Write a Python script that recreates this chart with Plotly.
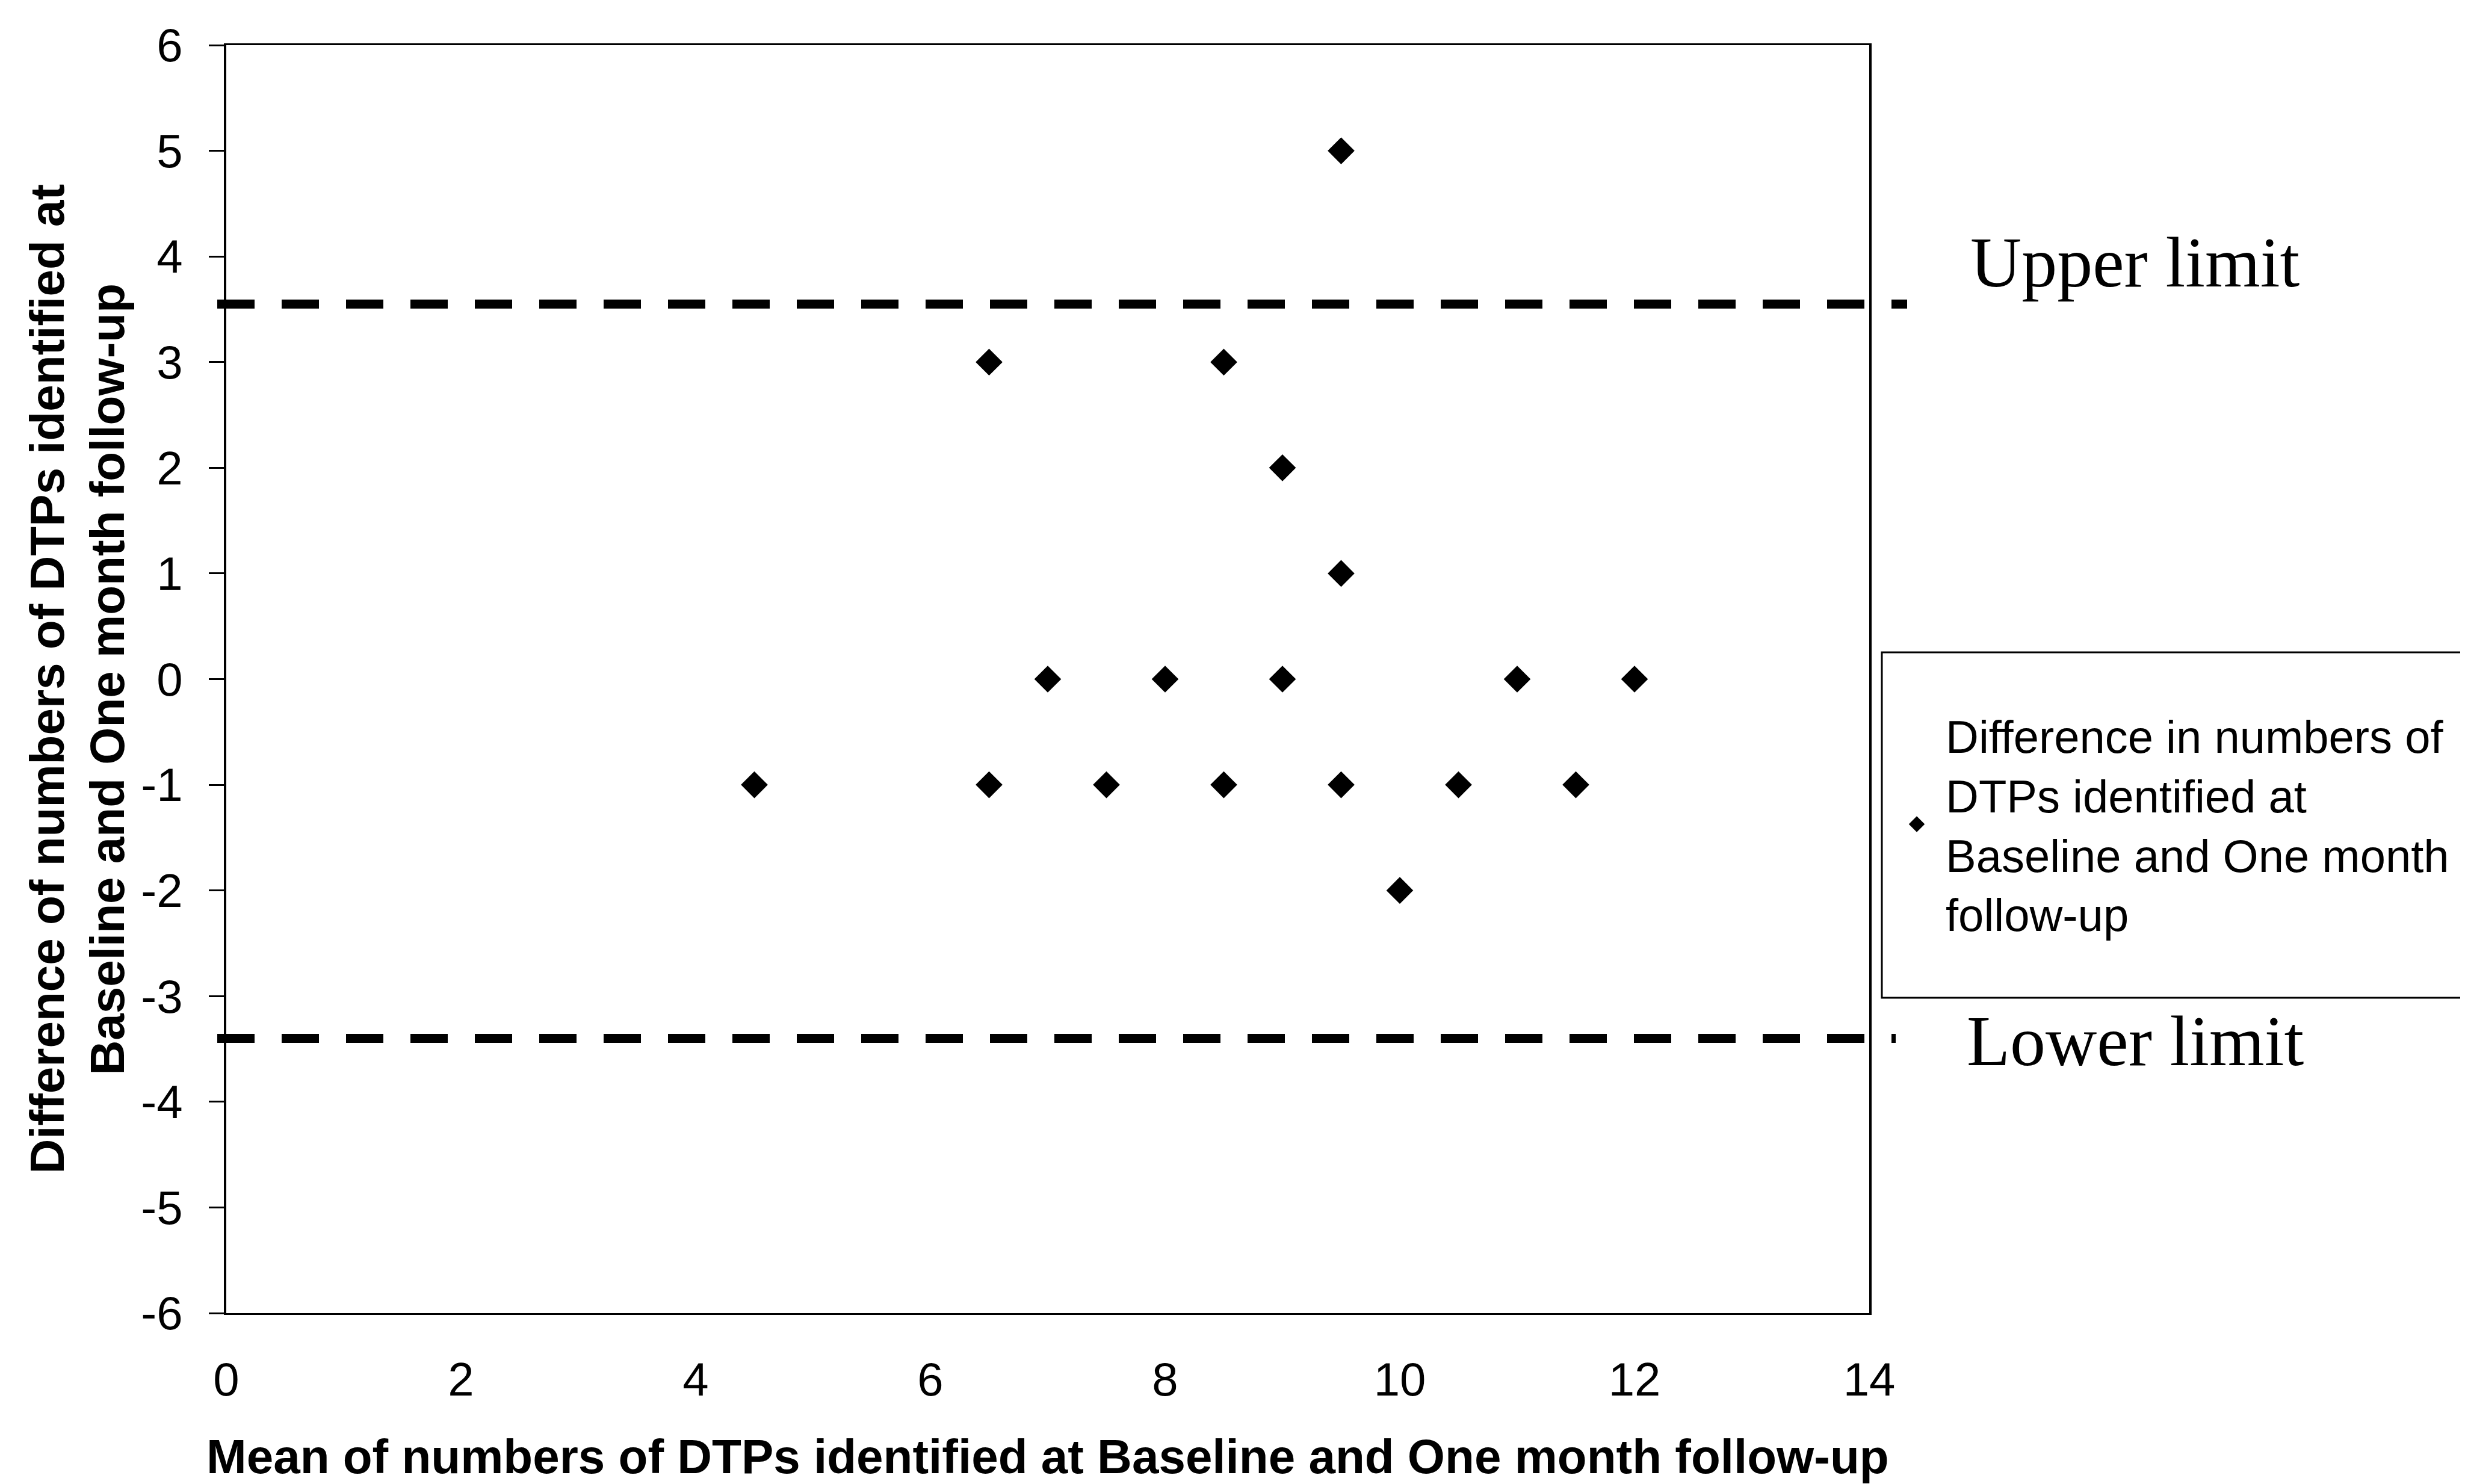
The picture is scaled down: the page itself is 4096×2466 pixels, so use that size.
import plotly.graph_objects as go

# ---- data ----
mean_vals = [4.5, 6.5, 6.5, 7, 7.5, 8, 8.5, 8.5, 9, 9, 9.5, 9.5, 9.5, 10, 10.5, 11, 11.5, 12]
diff_vals = [-1, 3, -1, 0, -1, 0, 3, -1, 2, 0, 5, 1, -1, -2, -1, 0, -1, 0]
limit_names = ["Upper limit", "Lower limit"]
limit_values = [3.55, -3.4]
x_ticks = [0, 2, 4, 6, 8, 10, 12, 14]
y_ticks = [-6, -5, -4, -3, -2, -1, 0, 1, 2, 3, 4, 5, 6]
series_name = "Difference in numbers of<br>DTPs identified at<br>Baseline and One month<br>follow-up"
x_title = "Mean of numbers of DTPs identified at Baseline and One month follow-up"
y_title_lines = ["Difference of numbers of DTPs identified at", "Baseline and One month follow-up"]

W, H = 4096, 2466
L, R, T, B = 368, 3098, 67, 2174
PW, PH = R - L, B - T

def px(x):
    return (x - L) / PW

def py(y):
    return (B - y) / PH

SANS = "Liberation Sans, Arial, sans-serif"
SERIF = "Liberation Serif, Times New Roman, serif"

fig = go.Figure()
fig.add_trace(go.Scatter(
    x=mean_vals, y=diff_vals, mode="markers", name=series_name,
    marker=dict(symbol="diamond", size=30, color="black",
                line=dict(width=4, color="black")),
    cliponaxis=False,
))

shapes = []
# limit lines (dashed), extending slightly beyond the plot frame
line_ends = [px(3161), px(3142)]
for val, xe in zip(limit_values, line_ends):
    shapes.append(dict(type="line", xref="paper", yref="y", x0=px(353), x1=xe,
                       y0=val, y1=val,
                       line=dict(color="black", width=15, dash="62px,45px")))
# legend box
shapes.append(dict(type="rect", xref="paper", yref="paper",
                   x0=px(3119), x1=px(4110), y0=py(1650), y1=py(1076),
                   line=dict(color="black", width=3), fillcolor="rgba(0,0,0,0)"))

annotations = [
    dict(text=limit_names[0], xref="paper", yref="paper", x=px(3540), y=py(428),
         xanchor="center", yanchor="middle", showarrow=False,
         font=dict(family=SERIF, size=118, color="black")),
    dict(text=limit_names[1], xref="paper", yref="paper", x=px(3540), y=py(1722),
         xanchor="center", yanchor="middle", showarrow=False,
         font=dict(family=SERIF, size=118, color="black")),
    dict(text="<b>" + y_title_lines[0] + "</b>", xref="paper", yref="paper", x=0, y=0.5,
         xshift=70 - L, textangle=-90, xanchor="center", yanchor="middle", showarrow=False,
         font=dict(family=SANS, size=80, color="black")),
    dict(text="<b>" + y_title_lines[1] + "</b>", xref="paper", yref="paper", x=0, y=0.5,
         xshift=170 - L, textangle=-90, xanchor="center", yanchor="middle", showarrow=False,
         font=dict(family=SANS, size=80, color="black")),
    dict(text="<b>" + x_title + "</b>", xref="paper", yref="paper", x=0.5, y=py(2412),
         xanchor="center", yanchor="middle", showarrow=False,
         font=dict(family=SANS, size=80, color="black")),
]

fig.update_layout(
    width=W, height=H,
    margin=dict(l=L, r=W - R, t=T, b=H - B, pad=0),
    paper_bgcolor="white", plot_bgcolor="white",
    font=dict(family=SANS, color="black", size=77),
    showlegend=True,
    legend=dict(x=px(3129), y=py(1362), xanchor="left", yanchor="middle",
                bgcolor="rgba(0,0,0,0)", borderwidth=0, itemwidth=86,
                font=dict(family=SANS, size=76, color="black")),
    shapes=shapes,
    annotations=annotations,
    xaxis=dict(range=[0, 14], tickvals=x_ticks, ticktext=[str(v) for v in x_ticks],
               showgrid=False, zeroline=False, showline=True, linecolor="black",
               linewidth=3, mirror=True, ticks="", ticklabelstandoff=40,
               tickfont=dict(family=SANS, size=78, color="black")),
    yaxis=dict(range=[-6, 6], tickvals=y_ticks, ticktext=[str(v) for v in y_ticks],
               showgrid=False, zeroline=False, showline=True, linecolor="black",
               linewidth=3.5, mirror=True, ticks="outside", ticklen=25, tickwidth=3,
               tickcolor="black", ticklabelstandoff=28,
               tickfont=dict(family=SANS, size=78, color="black")),
)

fig.write_html("out.html")
